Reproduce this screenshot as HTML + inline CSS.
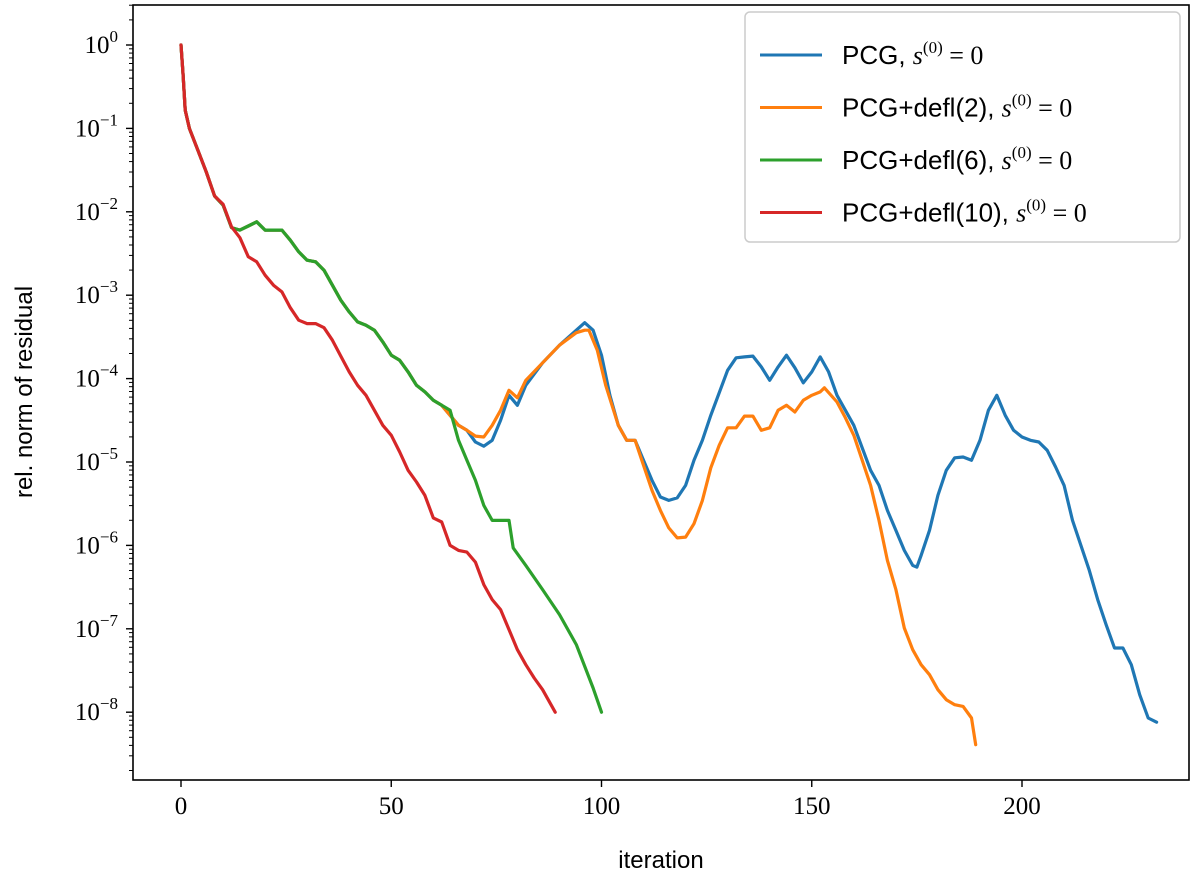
<!DOCTYPE html>
<html><head><meta charset="utf-8"><style>
body{margin:0;background:#fff}
.sans{font-family:"Liberation Sans",sans-serif}
.serif{font-family:"Liberation Serif",serif}
</style></head><body>
<svg id="chart" width="1200" height="883" viewBox="0 0 1200 883" xmlns="http://www.w3.org/2000/svg">
<rect width="1200" height="883" fill="#fff"/>
<g id="series"></g>
<rect x="133" y="5" width="1056" height="775" fill="none" stroke="#000" stroke-width="1.6"/>
<g id="axes"></g>
<text class="sans" x="661" y="868" font-size="24" text-anchor="middle">iteration</text>
<text class="sans" x="0" y="0" font-size="24" text-anchor="middle" transform="translate(32,392) rotate(-90)">rel. norm of residual</text>
<g id="legend"></g>
</svg>
<script>
const xTicks=[0,50,100,150,200];
const yDecades=[0,-1,-2,-3,-4,-5,-6,-7,-8];
const seriesNames=["PCG","PCG+defl(2)","PCG+defl(6)","PCG+defl(10)"];
const seriesColors=["#1f77b4","#ff7f0e","#2ca02c","#d62728"];
const common=[[0,0],[0.5,-0.36],[1,-0.78],[2,-1.0],[4,-1.26],[6,-1.52],[8,-1.81]];
const redIter=[10,12,14,16,18,20,22,24,26,28,30,32,34,36,38,40,42,44,46,48,50,52,54,56,58,60,62,64,66,68,70,72,74,76,78,80,82,84,86,88,89];
const redLog=[-1.91,-2.18,-2.31,-2.54,-2.60,-2.76,-2.88,-2.96,-3.15,-3.30,-3.34,-3.34,-3.39,-3.54,-3.73,-3.92,-4.08,-4.20,-4.38,-4.56,-4.68,-4.88,-5.10,-5.24,-5.40,-5.67,-5.72,-6.00,-6.06,-6.08,-6.20,-6.47,-6.65,-6.77,-7.01,-7.25,-7.43,-7.59,-7.73,-7.91,-8.0];
const greenIter=[10,12,14,16,18,20,22,24,26,28,30,32,34,36,38,40,42,44,46,48,50,52,54,56,58,60,62,64,66,68,70,72,74,76,78,79,82,86,90,94,98,100];
const greenLog=[-1.92,-2.19,-2.22,-2.17,-2.12,-2.22,-2.22,-2.22,-2.34,-2.48,-2.58,-2.60,-2.70,-2.88,-3.06,-3.20,-3.32,-3.36,-3.42,-3.56,-3.72,-3.78,-3.92,-4.08,-4.16,-4.26,-4.32,-4.38,-4.74,-4.98,-5.22,-5.52,-5.70,-5.70,-5.70,-6.03,-6.24,-6.53,-6.83,-7.19,-7.71,-8.0];
const orangeIter=[66,68,70,72,74,76,78,80,82,86,90,94,96,97,99,101,104,106,108,110,112,114,116,118,120,122,124,126,128,130,132,134,136,138,140,142,144,146,148,150,152,153,156,158,160,162,164,166,168,170,172,174,176,178,180,182,184,186,188,189];
const orangeLog=[-4.56,-4.62,-4.69,-4.70,-4.56,-4.38,-4.14,-4.23,-4.02,-3.81,-3.60,-3.45,-3.42,-3.42,-3.66,-4.08,-4.56,-4.74,-4.74,-5.04,-5.34,-5.58,-5.79,-5.91,-5.90,-5.74,-5.46,-5.07,-4.80,-4.59,-4.59,-4.45,-4.45,-4.62,-4.59,-4.38,-4.32,-4.40,-4.26,-4.20,-4.16,-4.11,-4.28,-4.47,-4.68,-4.98,-5.28,-5.70,-6.18,-6.53,-6.99,-7.25,-7.43,-7.55,-7.73,-7.85,-7.91,-7.93,-8.07,-8.39];
const blueIter=[66,68,70,72,74,76,78,80,82,86,90,94,96,98,100,102,104,106,108,110,112,114,116,118,120,122,124,126,130,132,134,136,138,140,142,144,146,148,150,152,154,156,158,160,162,164,166,168,170,172,174,175,176,178,180,182,184,186,188,190,192,194,196,198,200,202,204,206,208,210,212,214,216,218,220,222,224,226,228,230,232];
const blueLog=[-4.56,-4.62,-4.76,-4.81,-4.74,-4.50,-4.20,-4.32,-4.08,-3.81,-3.60,-3.42,-3.33,-3.42,-3.72,-4.20,-4.56,-4.74,-4.74,-4.98,-5.22,-5.42,-5.46,-5.43,-5.28,-4.98,-4.74,-4.44,-3.90,-3.75,-3.74,-3.73,-3.86,-4.02,-3.86,-3.72,-3.87,-4.05,-3.92,-3.74,-3.92,-4.20,-4.38,-4.56,-4.83,-5.10,-5.28,-5.58,-5.82,-6.06,-6.24,-6.26,-6.12,-5.82,-5.40,-5.10,-4.95,-4.94,-4.98,-4.74,-4.38,-4.20,-4.44,-4.62,-4.70,-4.74,-4.76,-4.86,-5.06,-5.28,-5.70,-6.00,-6.30,-6.65,-6.95,-7.23,-7.23,-7.43,-7.79,-8.07,-8.12];

const X0=181, XS=4.205, Y0=45, YS=83.4;
const xs=v=>X0+v*XS, ys=l=>Y0-l*YS;
const NS="http://www.w3.org/2000/svg";
function mk(tag,attrs,parent){const e=document.createElementNS(NS,tag);for(const k in attrs)e.setAttribute(k,attrs[k]);parent.appendChild(e);return e;}
const axes=document.getElementById('axes');
xTicks.forEach(t=>{
  const l=mk('line',{x1:xs(t),x2:xs(t),y1:780,y2:787,stroke:'#000','stroke-width':1.4},axes);
  
  
  const tx=mk('text',{x:xs(t),y:814,'font-size':25,'text-anchor':'middle','class':'serif'},axes);
  
  
  tx.textContent=t;
});
yDecades.forEach(d=>{
  const l=mk('line',{x1:126,x2:133,y1:ys(d),y2:ys(d),stroke:'#000','stroke-width':1.4},axes);
  
  
  const tx=mk('text',{x:118,y:ys(d)+8,'font-size':25,'text-anchor':'end','class':'serif'},axes);
  
  
  tx.innerHTML='10<tspan dy="-11" font-size="17">'+(d<0?'\u2212'+(-d):d)+'</tspan>';
});
for(let d=-9;d<=0;d++){for(let k=2;k<=9;k++){const y=ys(d+Math.log10(k));if(y<5||y>780)continue;
  const l=mk('line',{x1:129,x2:133,y1:y,y2:y,stroke:'#000','stroke-width':1},axes);
  
  }}
const ser=document.getElementById('series');
function draw(it,lg,color,name,pre){
  let pts=pre.map(p=>[p[0],p[1]]);
  it.forEach((v,i)=>pts.push([v,lg[i]]));
  const d=pts.map((p,i)=>(i?'L':'M')+xs(p[0]).toFixed(1)+','+ys(p[1]).toFixed(1)).join(' ');
  const p=mk('path',{d:d,fill:'none',stroke:color,'stroke-width':3.2,'stroke-linejoin':'round','stroke-linecap':'round'},ser);
  
  
}
const greenPre=common.concat(greenIter.slice(0,27).map((v,i)=>[v,greenLog[i]]));
draw(blueIter,blueLog,seriesColors[0],'series-pcg',greenPre);
draw(orangeIter,orangeLog,seriesColors[1],'series-defl2',greenPre);
draw(greenIter,greenLog,seriesColors[2],'series-defl6',common);
draw(redIter,redLog,seriesColors[3],'series-defl10',common);
const leg=document.getElementById('legend');
mk('rect',{x:745,y:12,width:435,height:230,rx:5,fill:'#fff','fill-opacity':0.85,stroke:'#ccc','stroke-width':1.5},leg);
seriesNames.forEach((n,i)=>{
  const y=55+i*52.5;
  const g=mk('g',{},leg);
  
  
  mk('line',{x1:760,x2:822,y1:y,y2:y,stroke:seriesColors[i],'stroke-width':3},g);
  const t=mk('text',{x:842,y:y+9,'font-size':26,'class':'sans'},g);
  t.innerHTML=n+', <tspan class="serif" font-style="italic">s</tspan><tspan class="serif" font-size="17" dy="-11">(0)</tspan><tspan class="serif" dy="11"> = 0</tspan>';
});
</script>
</body></html>
